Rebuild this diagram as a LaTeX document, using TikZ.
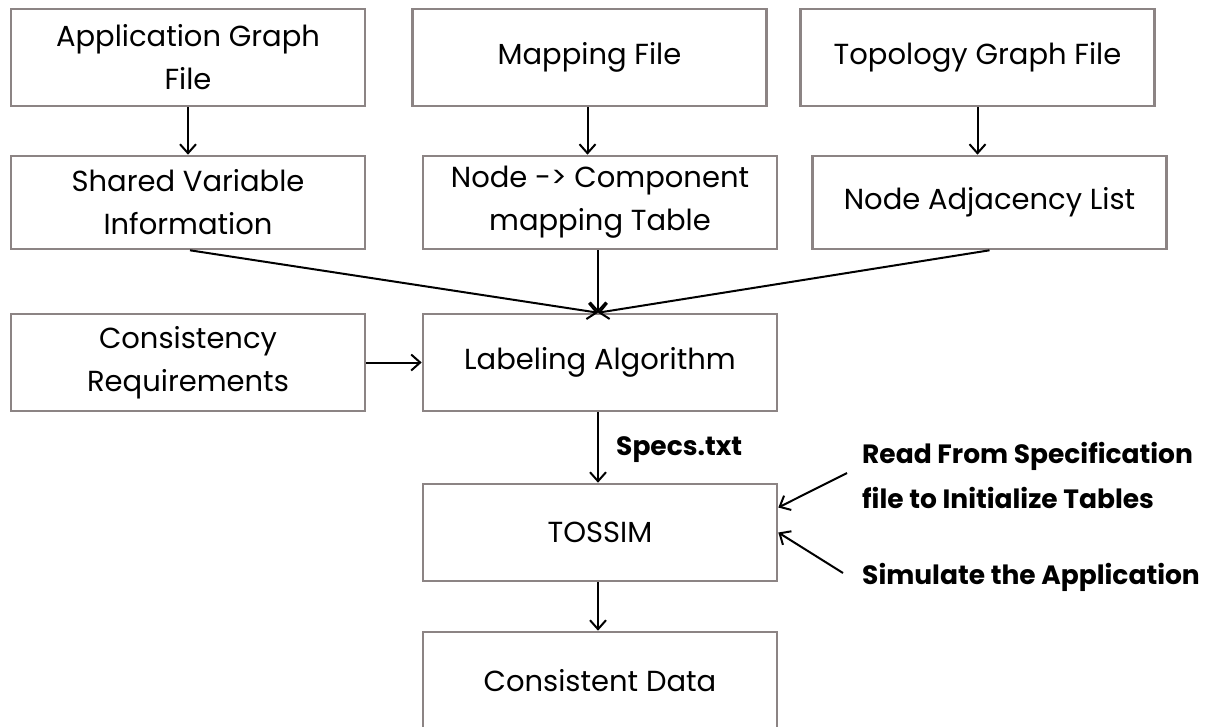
\documentclass[tikz,border=0pt]{standalone}
\usepackage{fontspec}
\setmainfont{Poppins}
\usetikzlibrary{arrows.meta}
\definecolor{boxgray}{RGB}{140,132,132}
\tikzset{
  box/.style={draw=boxgray, line width=2.6pt, rectangle, minimum width=354pt, minimum height=97pt,
    align=center, inner sep=0pt, font=\fontsize{29}{43}\selectfont},
  arr/.style={draw=black, line width=2pt, -{Straight Barb[length=9pt,width=16pt,line width=2pt]}},
  note/.style={anchor=west, align=left, inner sep=0pt, font=\fontsize{26.5}{45}\selectfont\bfseries}
}
\begin{document}
\begin{tikzpicture}[x=1pt,y=-1pt]
\useasboundingbox[fill=white] (0,0) rectangle (1208,726);
\node[box] (app) at (188,57.5) {Application Graph\\File};
\node[box] (map) at (589.5,57.5) {Mapping File};
\node[box] (topo) at (977.5,57.5) {Topology Graph File};
\node[box, minimum height=93pt] (shared) at (188,202.5) {Shared Variable\\Information};
\node[box, minimum height=93pt] (nctab) at (600,202.5) {Node -> Component\\mapping Table};
\node[box, minimum height=93pt] (adj) at (989.5,202.5) {Node Adjacency List};
\node[box] (cons) at (188,362.5) {Consistency\\Requirements};
\node[box] (label) at (600,362.5) {Labeling Algorithm};
\node[box] (tossim) at (600,532.5) {TOSSIM};
\node[box] (data) at (600,680.5) {Consistent Data};

\node[note] (specs) at (616,450) {Specs.txt};
\node[note] (read) at (862,475) {Read From Specification\\file to Initialize Tables};
\node[note] (sim) at (862,577) {Simulate the Application};
\coordinate (r1) at (847,473);
\coordinate (r2) at (843,573);

\draw[arr] (app.south) -- (shared.north);
\draw[arr] ([xshift=-2pt]map.south) -- ([xshift=-12.5pt]nctab.north);
\draw[arr] (topo.south) -- ([xshift=-12pt]adj.north);
\draw[arr] ([xshift=2pt]shared.south) -- ([xshift=-2pt]label.north);
\draw[arr] ([xshift=-2pt]nctab.south) -- ([xshift=-2pt]label.north);
\draw[arr] (adj.south) -- ([xshift=-2pt]label.north);
\draw[arr] (cons.east) -- (label.west);
\draw[arr] ([xshift=-2pt]label.south) -- ([xshift=-2pt]tossim.north);
\draw[arr] ([xshift=-2pt]tossim.south) -- ([xshift=-2pt]data.north);
\draw[arr] (r1) -- ([yshift=25pt]tossim.east);
\draw[arr] (r2) -- (tossim.east);
\end{tikzpicture}
\end{document}
